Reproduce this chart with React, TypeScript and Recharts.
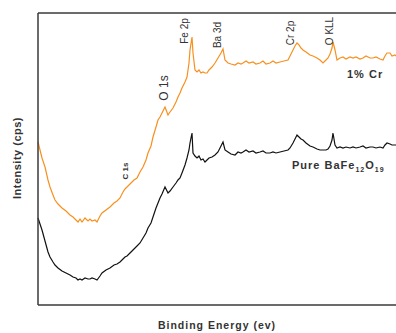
import { Line, LineChart, ReferenceLine, XAxis, YAxis } from 'recharts'

// Survey spectra, arbitrary channel position vs. counts (arb. units)
const energy = [
  0, 2, 4, 7, 10, 12, 15, 17, 20, 24,
  28, 32, 35, 38, 40, 42, 44, 47, 50, 52,
  54, 57, 59, 62, 64, 68, 72, 76, 79, 82,
  85, 87, 89, 92, 96, 99, 102, 105, 108, 110,
  113, 115, 118, 120, 122, 124, 127, 130, 132, 135,
  138, 140, 142, 144, 147, 149, 151, 152, 154, 155,
  157, 159, 161, 163, 165, 167, 169, 171, 174, 177,
  180, 183, 185, 187, 190, 193, 197, 200, 203, 205,
  208, 211, 215, 218, 222, 225, 228, 232, 235, 238,
  242, 246, 250, 252, 255, 257, 259, 261, 263, 265,
  268, 272, 275, 279, 282, 285, 288, 290, 292, 294,
  295, 297, 299, 302, 305, 308, 312, 315, 318, 322,
  325, 328, 332, 335, 338, 342, 345, 347, 349, 352,
  354, 357, 358,
]

const crDoped = [
  163, 155, 147, 138, 125, 118, 110, 105, 101, 97,
  94, 90, 88, 85, 83, 86, 83, 87, 84, 86,
  84, 85, 83, 89, 92, 95, 98, 102, 104, 107,
  113, 116, 118, 121, 125, 127, 133, 138, 145, 152,
  159, 168, 178, 185, 188, 192, 198, 190, 193, 197,
  203, 208, 212, 217, 223, 228, 242, 255, 268, 252,
  235, 233, 235, 232, 233, 232, 232, 235, 238, 242,
  247, 252, 256, 245, 242, 241, 240, 242, 241, 242,
  244, 242, 243, 241, 242, 244, 241, 242, 244, 242,
  243, 244, 245, 249, 255, 259, 262, 260, 257, 255,
  253, 250, 249, 247, 245, 242, 245, 247, 251, 257,
  263, 255, 245, 247, 248, 246, 248, 247, 248, 246,
  247, 249, 247, 247, 248, 246, 245, 249, 252, 252,
  249, 250, 249,
]

const pure = [
  87, 81, 75, 64, 53, 48, 43, 40, 37, 34,
  32, 30, 28, 27, 25, 26, 25, 27, 26, 26,
  27, 26, 25, 29, 32, 35, 37, 40, 41, 43,
  46, 48, 49, 52, 56, 59, 62, 67, 72, 77,
  82, 88, 97, 102, 107, 111, 118, 112, 114, 118,
  122, 125, 127, 132, 140, 147, 155, 162, 172, 152,
  149, 147, 149, 145, 146, 143, 145, 147, 148, 150,
  153, 159, 163, 155, 153, 151, 150, 153, 152, 153,
  155, 153, 154, 152, 153, 154, 152, 152, 153, 152,
  153, 154, 155, 157, 162, 166, 170, 168, 166, 165,
  162, 159, 158, 156, 155, 155, 155, 156, 159, 165,
  172, 160, 157, 158, 157, 158, 157, 158, 157, 158,
  159, 157, 158, 158, 157, 158, 157, 160, 162, 161,
  160, 160, 160,
]

const X_MAX = 358
const Y_MAX = 292
const FRAME = '#3a3a3a'
const TEXT = '#333'

const peakLabels = [
  { text: 'Fe 2p', x: 184, y: 31, size: 10, bold: false },
  { text: 'Ba 3d', x: 217, y: 35, size: 10, bold: false },
  { text: 'Cr 2p', x: 290, y: 33, size: 10, bold: false },
  { text: 'O KLL', x: 329, y: 31, size: 10, bold: false },
  { text: 'O 1s', x: 164, y: 88, size: 12, bold: false },
  { text: 'C 1s', x: 125, y: 171, size: 8, bold: true },
]

const data = energy.map((e, i) => ({ e, cr: crDoped[i], pure: pure[i] }))

const App = () => {
  return (
    <div style={{ position: 'absolute', left: 0, top: 0, width: 396, height: 333, overflow: 'hidden', background: '#fff' }}>
      <LineChart width={396} height={333} data={data} margin={{ top: 13, right: 0, bottom: 0, left: 0 }}>
        <XAxis
          dataKey="e"
          type="number"
          domain={[0, X_MAX]}
          height={28}
          tick={false}
          tickLine={false}
          axisLine={{ stroke: FRAME, strokeWidth: 1.5 }}
        />
        <YAxis
          type="number"
          domain={[0, Y_MAX]}
          width={38}
          tick={false}
          tickLine={false}
          axisLine={{ stroke: FRAME, strokeWidth: 1.5 }}
        />
        <ReferenceLine y={Y_MAX} stroke={FRAME} strokeWidth={1.5} />
        <Line
          dataKey="cr"
          stroke="#f7901e"
          strokeWidth={1.2}
          dot={false}
          isAnimationActive={false}
        />
        <Line
          dataKey="pure"
          stroke="#111"
          strokeWidth={1.2}
          dot={false}
          isAnimationActive={false}
        />
      </LineChart>
      <svg
        width={396}
        height={333}
        style={{ position: 'absolute', left: 0, top: 0, pointerEvents: 'none' }}
        fontFamily="'Liberation Sans', Arial, sans-serif"
        fill={TEXT}
      >
        {peakLabels.map((l) => (
          <text
            key={l.text}
            transform={`translate(${l.x},${l.y}) rotate(-90)`}
            textAnchor="middle"
            dominantBaseline="central"
            fontSize={l.size}
            fontWeight={l.bold ? 'bold' : 'normal'}
          >
            {l.text}
          </text>
        ))}
        <text x={347} y={78} fontSize={11} fontWeight="bold" letterSpacing={1}>
          1% Cr
        </text>
        <text x={292} y={169} fontSize={11} fontWeight="bold" letterSpacing={1}>
          Pure BaFe
          <tspan fontSize={7} dy={3}>12</tspan>
          <tspan dy={-3}>O</tspan>
          <tspan fontSize={7} dy={3}>19</tspan>
        </text>
        <text
          transform="translate(17,158) rotate(-90)"
          textAnchor="middle"
          dominantBaseline="central"
          fontSize={11}
          fontWeight="bold"
          letterSpacing={0.5}
        >
          Intensity (cps)
        </text>
        <text x={217} y={329} textAnchor="middle" fontSize={10.5} fontWeight="bold" letterSpacing={1}>
          Binding Energy (ev)
        </text>
      </svg>
    </div>
  )
}

export default App
